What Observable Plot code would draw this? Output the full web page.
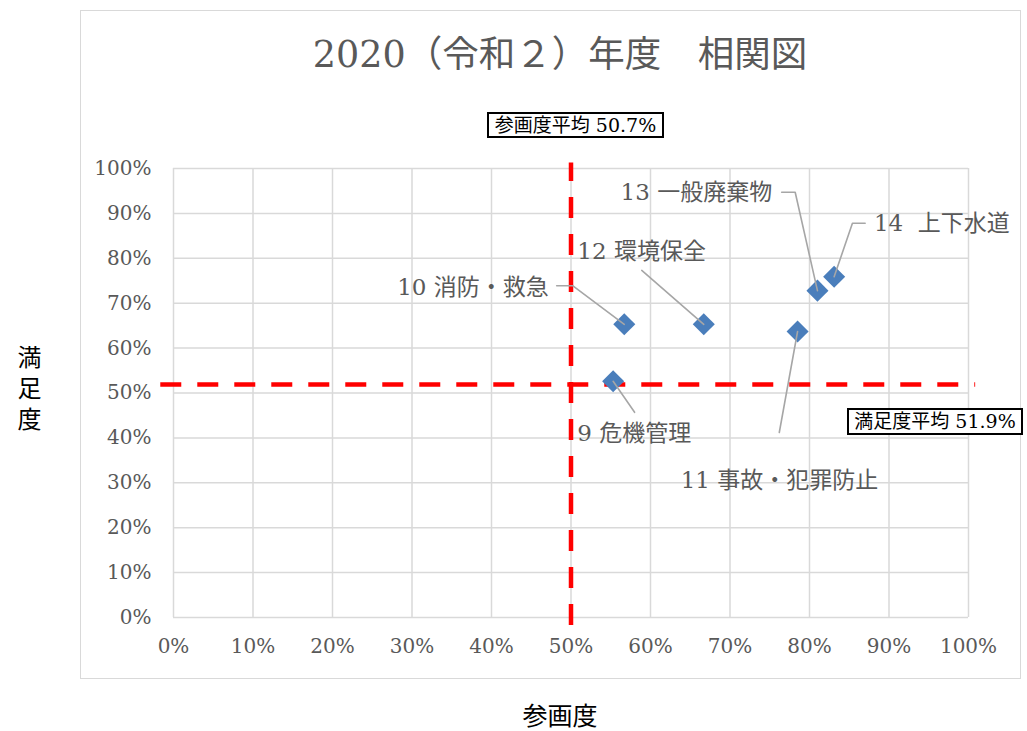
<!DOCTYPE html>
<html>
<head>
<meta charset="utf-8">
<script src="https://cdn.jsdelivr.net/npm/d3@7"></script>
<script src="https://cdn.jsdelivr.net/npm/@observablehq/plot@0.6"></script>
<style>
  html, body { margin: 0; padding: 0; background: #fff; }
  #wrap { position: relative; width: 1027px; height: 731px; overflow: hidden;
          font-family: 'DejaVu Serif', 'Liberation Serif', 'Noto Sans CJK JP', serif; }
  #frame { position: absolute; left: 80px; top: 10px; width: 941px; height: 669px;
           border: 1.5px solid #d9d9d9; box-sizing: border-box; }
  #title { position: absolute; left: 0; width: 1120px; top: 32px; text-align: center;
           font-size: 36.5px; color: #595959; line-height: 46px; white-space: nowrap; }
  #ylab { position: absolute; left: 14px; top: 345px; font-size: 24px; color: #000;
          writing-mode: vertical-rl; line-height: 26px; letter-spacing: 7px; }
  #xlab { position: absolute; left: 0; width: 1120px; top: 703px; text-align: center;
          font-size: 25px; color: #000; line-height: 27px; }
  .meanbox { position: absolute; border: 2px solid #000; background: #fff; color: #000;
             font-size: 19px; line-height: 22px; text-align: center; white-space: nowrap; box-sizing: border-box; }
  #chart { position: absolute; left: 0; top: 0; }
</style>
</head>
<body>
<div id="wrap">
  <div id="frame"></div>
  <div id="chart"></div>
  <div id="title"></div>
  <div id="ylab"></div>
  <div id="xlab"></div>
  <div id="meanXBox" class="meanbox" style="left:487px; top:112px; width:177px; height:26px;"></div>
  <div id="meanYBox" class="meanbox" style="left:847px; top:408px; width:176px; height:27px;"></div>
</div>
<script>
// ---- data ----
const titleText = "2020（令和２）年度　相関図";
const xAxisLabel = "参画度";
const yAxisLabel = "満足度";
const tickValues = [0, 10, 20, 30, 40, 50, 60, 70, 80, 90, 100];

const items = ["9 危機管理", "10 消防・救急", "11 事故・犯罪防止", "12 環境保全", "13 一般廃棄物", "14  上下水道"];
const participation = [55.3, 56.7, 78.5, 66.7, 81.0, 83.1]; // 参画度 (%)
const satisfaction  = [52.6, 65.3, 63.7, 65.3, 72.8, 75.9]; // 満足度 (%)

// label anchors (data units) and leader elbows
const labelX = [50.8, 47.2, 63.8, 50.8, 75.3, 88.1];
const labelY = [41.0, 73.5, 30.5, 81.5, 94.7, 87.8];
const labelSide = ["start", "end", "start", "start", "end", "start"];
const leaderX = [[58.0], [48.2, 50.2], [76.2], [58.9], [76.5, 78.2], [87.0, 85.4]];
const leaderY = [[45.7], [73.9, 73.9], [41.2], [77.3], [94.7, 94.7], [87.8, 87.8]];

// averages
const meanParticipationLabel = "参画度平均 50.7%";
const meanSatisfactionLabel = "満足度平均 51.9%";
const meanParticipationLine = 50.0;   // where the dashed line is drawn
const meanSatisfactionLine = 51.9;

// ---- build ----
document.getElementById("title").textContent = titleText;
document.getElementById("xlab").textContent = xAxisLabel;
document.getElementById("ylab").textContent = yAxisLabel;
document.getElementById("meanXBox").textContent = meanParticipationLabel;
document.getElementById("meanYBox").textContent = meanSatisfactionLabel;

const points = items.map((name, i) => ({
  name, x: participation[i], y: satisfaction[i],
  lx: labelX[i], ly: labelY[i], side: labelSide[i]
}));
const leaders = [];
items.forEach((name, i) => {
  leaderX[i].forEach((lx, j) => leaders.push({id: name, x: lx, y: leaderY[i][j]}));
  leaders.push({id: name, x: participation[i], y: satisfaction[i]});
});

const fmt = d => d + "%";
const gridColor = "#d9d9d9";
const textColor = "#595959";
const fontStack = "'DejaVu Serif', 'Liberation Serif', 'Noto Sans CJK JP', serif";

const chart = Plot.plot({
  width: 1027,
  height: 731,
  marginLeft: 173,
  marginRight: 59,
  marginTop: 168,
  marginBottom: 114,
  style: {fontFamily: fontStack, fontSize: "20px", background: "transparent", color: textColor},
  x: {domain: [0, 100]},
  y: {domain: [0, 100]},
  marks: [
    Plot.gridX(tickValues, {stroke: gridColor, strokeOpacity: 1, strokeWidth: 1.5}),
    Plot.gridY(tickValues, {stroke: gridColor, strokeOpacity: 1, strokeWidth: 1.5}),
    Plot.axisX({ticks: tickValues, tickFormat: fmt, tickSize: 0, tickPadding: 21, label: null, fontSize: 20, fill: textColor}),
    Plot.axisY({ticks: tickValues, tickFormat: fmt, tickSize: 0, tickPadding: 22, label: null, fontSize: 20, fill: textColor}),
    Plot.ruleY([meanSatisfactionLine], {x1: -1.6, x2: 100.9, stroke: "#ff0000", strokeWidth: 4.5, strokeDasharray: "21,16"}),
    Plot.ruleX([meanParticipationLine], {y1: -1.8, y2: 101.2, stroke: "#ff0000", strokeWidth: 4.5, strokeDasharray: "21,16"}),
    Plot.dot(points, {x: "x", y: "y", symbol: "square", rotate: 45, r: 8.8, fill: "#4a7ebb", stroke: "none"}),
    Plot.line(leaders, {x: "x", y: "y", z: "id", stroke: "#a6a6a6", strokeWidth: 1.6}),
    Plot.text(points.filter(d => d.side === "start"), {x: "lx", y: "ly", text: "name", textAnchor: "start", fill: textColor, fontSize: 23}),
    Plot.text(points.filter(d => d.side === "end"), {x: "lx", y: "ly", text: "name", textAnchor: "end", fill: textColor, fontSize: 23})
  ]
});
document.getElementById("chart").appendChild(chart);
</script>
</body>
</html>
